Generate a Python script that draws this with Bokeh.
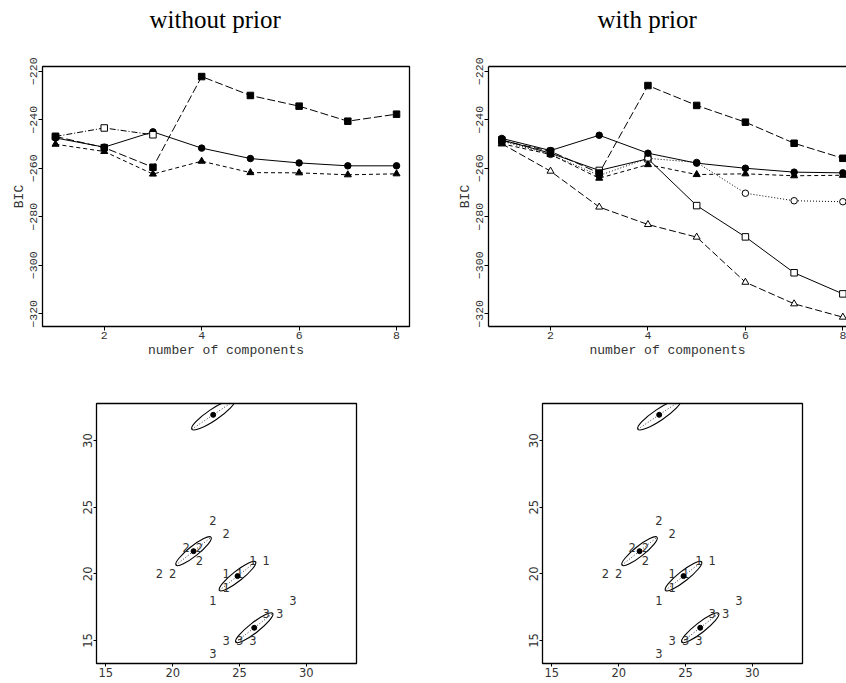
import numpy as np
from bokeh.plotting import figure
from bokeh.layouts import column, row
from bokeh.models import Range1d, LinearAxis, FixedTicker, Title
from bokeh.core.properties import value
from bokeh.embed import file_html
from bokeh.resources import INLINE

# ---------------- data ----------------
n_comp = [1, 2, 3, 4, 5, 6, 7, 8]
bic_ticks = [-320, -300, -280, -260, -240, -220]
comp_ticks = [2, 4, 6, 8]
xy_ticks = [15, 20, 25, 30]

# BIC without prior
np_filled_square = [-246.9, -251.5, -259.6, -222.2, -230.0, -234.4, -240.6, -237.7]
np_open_square = [-246.9, -243.4, -246.2]
np_filled_circle = [-247.5, -251.3, -245.0, -251.7, -256.0, -257.8, -259.0, -259.0]
np_filled_triangle = [-250.1, -253.1, -262.4, -257.1, -261.8, -261.9, -262.7, -262.3]

# BIC with prior
wp_filled_square = [-248.6, -253.0, -262.0, -225.9, -234.1, -241.0, -249.7, -255.9]
wp_filled_circle = [-247.7, -252.7, -246.4, -253.8, -257.9, -260.0, -261.6, -261.9]
wp_filled_triangle = [-249.9, -254.3, -264.1, -258.5, -262.6, -262.3, -263.1, -262.9]
wp_open_circle = [-248.8, -254.3, -263.0, -255.9, -257.6, -270.3, -273.4, -273.8]
wp_open_square = [-248.3, -253.8, -260.9, -256.1, -275.4, -288.3, -303.1, -311.8]
wp_open_triangle = [-249.9, -261.2, -276.0, -283.2, -288.4, -307.0, -315.9, -321.4]

# classified points
g1_x = [26, 27, 24, 25, 24, 23]
g1_y = [21, 21, 20, 20, 19, 18]
g2_x = [23, 24, 21, 22, 22, 19, 20]
g2_y = [24, 23, 22, 22, 21, 20, 20]
g3_x = [29, 27, 28, 24, 25, 26, 23]
g3_y = [18, 17, 17, 15, 15, 15, 14]

# fitted components (centre, full axes, orientation in degrees)
ell_cx = [24.85, 21.56, 26.1, 23.03]
ell_cy = [19.83, 21.7, 15.95, 31.93]
ell_major = [3.45, 3.35, 3.5, 3.85]
ell_minor = [0.75, 0.75, 0.75, 0.85]
ell_angle_deg = [38.3, 38.5, 38.0, 34.0]

titles = ["without prior", "with prior"]

TXT = "#333333"
MONO = "Liberation Mono"
SANS = "DejaVu Sans"


def style_axis(ax, font, size, tick_out, line=False):
    ax.axis_line_color = "black" if line else None
    ax.axis_line_width = 1.3
    ax.major_tick_in = 0
    ax.major_tick_out = tick_out
    ax.major_tick_line_color = "black"
    ax.minor_tick_line_color = None
    ax.major_label_text_font = font
    ax.major_label_text_font_size = size
    ax.major_label_text_color = TXT
    ax.major_label_standoff = 1
    ax.axis_label_text_font = font
    ax.axis_label_text_font_size = "13px"
    ax.axis_label_text_font_style = "normal"
    ax.axis_label_text_color = TXT
    ax.axis_label_standoff = 1


def bic_fig(x0, x1, fw, bl, br, clipped, title, toff):
    p = figure(title=None, frame_width=fw, frame_height=260,
               x_range=Range1d(x0, x1), y_range=Range1d(-325.25, -218.05),
               min_border_left=bl, min_border_right=br,
               min_border_top=66, min_border_bottom=39,
               output_backend="svg", toolbar_location=None,
               background_fill_color="white", border_fill_color="white")
    p.grid.visible = False
    p.xaxis.ticker = FixedTicker(ticks=comp_ticks)
    p.yaxis.ticker = FixedTicker(ticks=bic_ticks)
    for ax in p.xaxis:
        style_axis(ax, MONO, "11.5px", 4, clipped)
    for ax in p.yaxis:
        style_axis(ax, MONO, "11.5px", 4, clipped)
        ax.major_label_orientation = "vertical"
    p.xaxis.axis_label = "number of components"
    p.yaxis.axis_label = "BIC"
    if clipped:
        # frame runs past the window's right edge: draw the top edge with a
        # tickless axis and leave the right edge off
        top = LinearAxis(ticker=FixedTicker(ticks=[]), major_label_text_font_size="0px",
                         major_label_standoff=0, major_tick_in=0, major_tick_out=0,
                         axis_line_color="black", axis_line_width=1.3,
                         minor_tick_line_color=None)
        p.add_layout(top, "above")
        p.outline_line_color = None
    else:
        p.outline_line_color = "black"
        p.outline_line_width = 1.3
    # blank spacer title between frame and title
    p.add_layout(Title(text=" ", standoff=24, text_font_size="6px"), "above")
    t = Title(text=title, align="left", offset=toff, standoff=4,
              text_font="Liberation Serif", text_font_size="25px",
              text_font_style="normal", text_color="black")
    p.add_layout(t, "above")
    return p


def add_series(p, xs, ys, marker, filled, dash, size=6.5):
    p.line(xs, ys, line_color="black", line_width=1, line_dash=dash)
    p.scatter(xs, ys, marker=marker, size=size, line_color="black", line_width=1,
              fill_color="black" if filled else "white")


# --------- top left: without prior ---------
p1 = bic_fig(0.733, 8.266, 367, 42, 21, False, titles[0], 107)
add_series(p1, n_comp, np_filled_triangle, "triangle", True, "4 3", 7)
add_series(p1, n_comp, np_filled_circle, "circle", True, "solid")
add_series(p1, n_comp[:3], np_open_square, "square", False, "6 2 1 2")
add_series(p1, n_comp, np_filled_square, "square", True, "8 3")

# --------- top right: with prior ---------
p2 = bic_fig(0.7275, 8.075, 358, 58, 0, True, titles[1], 109)
add_series(p2, n_comp, wp_open_triangle, "triangle", False, "7 3", 7)
add_series(p2, n_comp, wp_open_square, "square", False, "solid")
add_series(p2, n_comp, wp_open_circle, "circle", False, "1 2")
add_series(p2, n_comp, wp_filled_triangle, "triangle", True, "4 3", 7)
add_series(p2, n_comp, wp_filled_circle, "circle", True, "solid")
add_series(p2, n_comp, wp_filled_square, "square", True, "8 3")


# --------- bottom: classification ---------
def class_fig(bl, br):
    p = figure(title=None, frame_width=260, frame_height=260,
               x_range=Range1d(14.3, 33.75), y_range=Range1d(13.27, 32.78),
               min_border_left=bl, min_border_right=br,
               min_border_top=38, min_border_bottom=20,
               output_backend="svg", toolbar_location=None,
               background_fill_color="white", border_fill_color="white")
    p.grid.visible = False
    p.outline_line_color = "black"
    p.outline_line_width = 1.3
    p.xaxis.ticker = FixedTicker(ticks=xy_ticks)
    p.yaxis.ticker = FixedTicker(ticks=xy_ticks)
    for ax in p.xaxis:
        style_axis(ax, SANS, "11.5px", 3)
    for ax in p.yaxis:
        style_axis(ax, SANS, "11.5px", 3)
        ax.major_label_orientation = "vertical"
    ang = np.radians(ell_angle_deg)
    p.ellipse(x=ell_cx, y=ell_cy, width=ell_major, height=ell_minor, angle=ang,
              fill_color=None, line_color="black", line_width=1.1)
    cx = np.array(ell_cx)
    cy = np.array(ell_cy)
    h = np.array(ell_major) / 2
    p.segment(x0=cx - h * np.cos(ang), y0=cy - h * np.sin(ang),
              x1=cx + h * np.cos(ang), y1=cy + h * np.sin(ang),
              line_color="black", line_width=0.8, line_dash="1 2")
    for gx, gy, lab in ((g1_x, g1_y, "1"), (g2_x, g2_y, "2"), (g3_x, g3_y, "3")):
        p.text(x=gx, y=gy, text=[lab] * len(gx), text_font=value(SANS),
               text_font_size=value("11.5px"), text_align="center",
               text_baseline="middle", text_color=TXT)
    p.scatter(ell_cx, ell_cy, marker="circle", size=5, color="black")
    return p


p3 = class_fig(96, 74)
p4 = class_fig(112, 44)

layout = column(row(p1, p2), row(p3, p4))

open("out.html", "w").write(file_html(layout, INLINE))
